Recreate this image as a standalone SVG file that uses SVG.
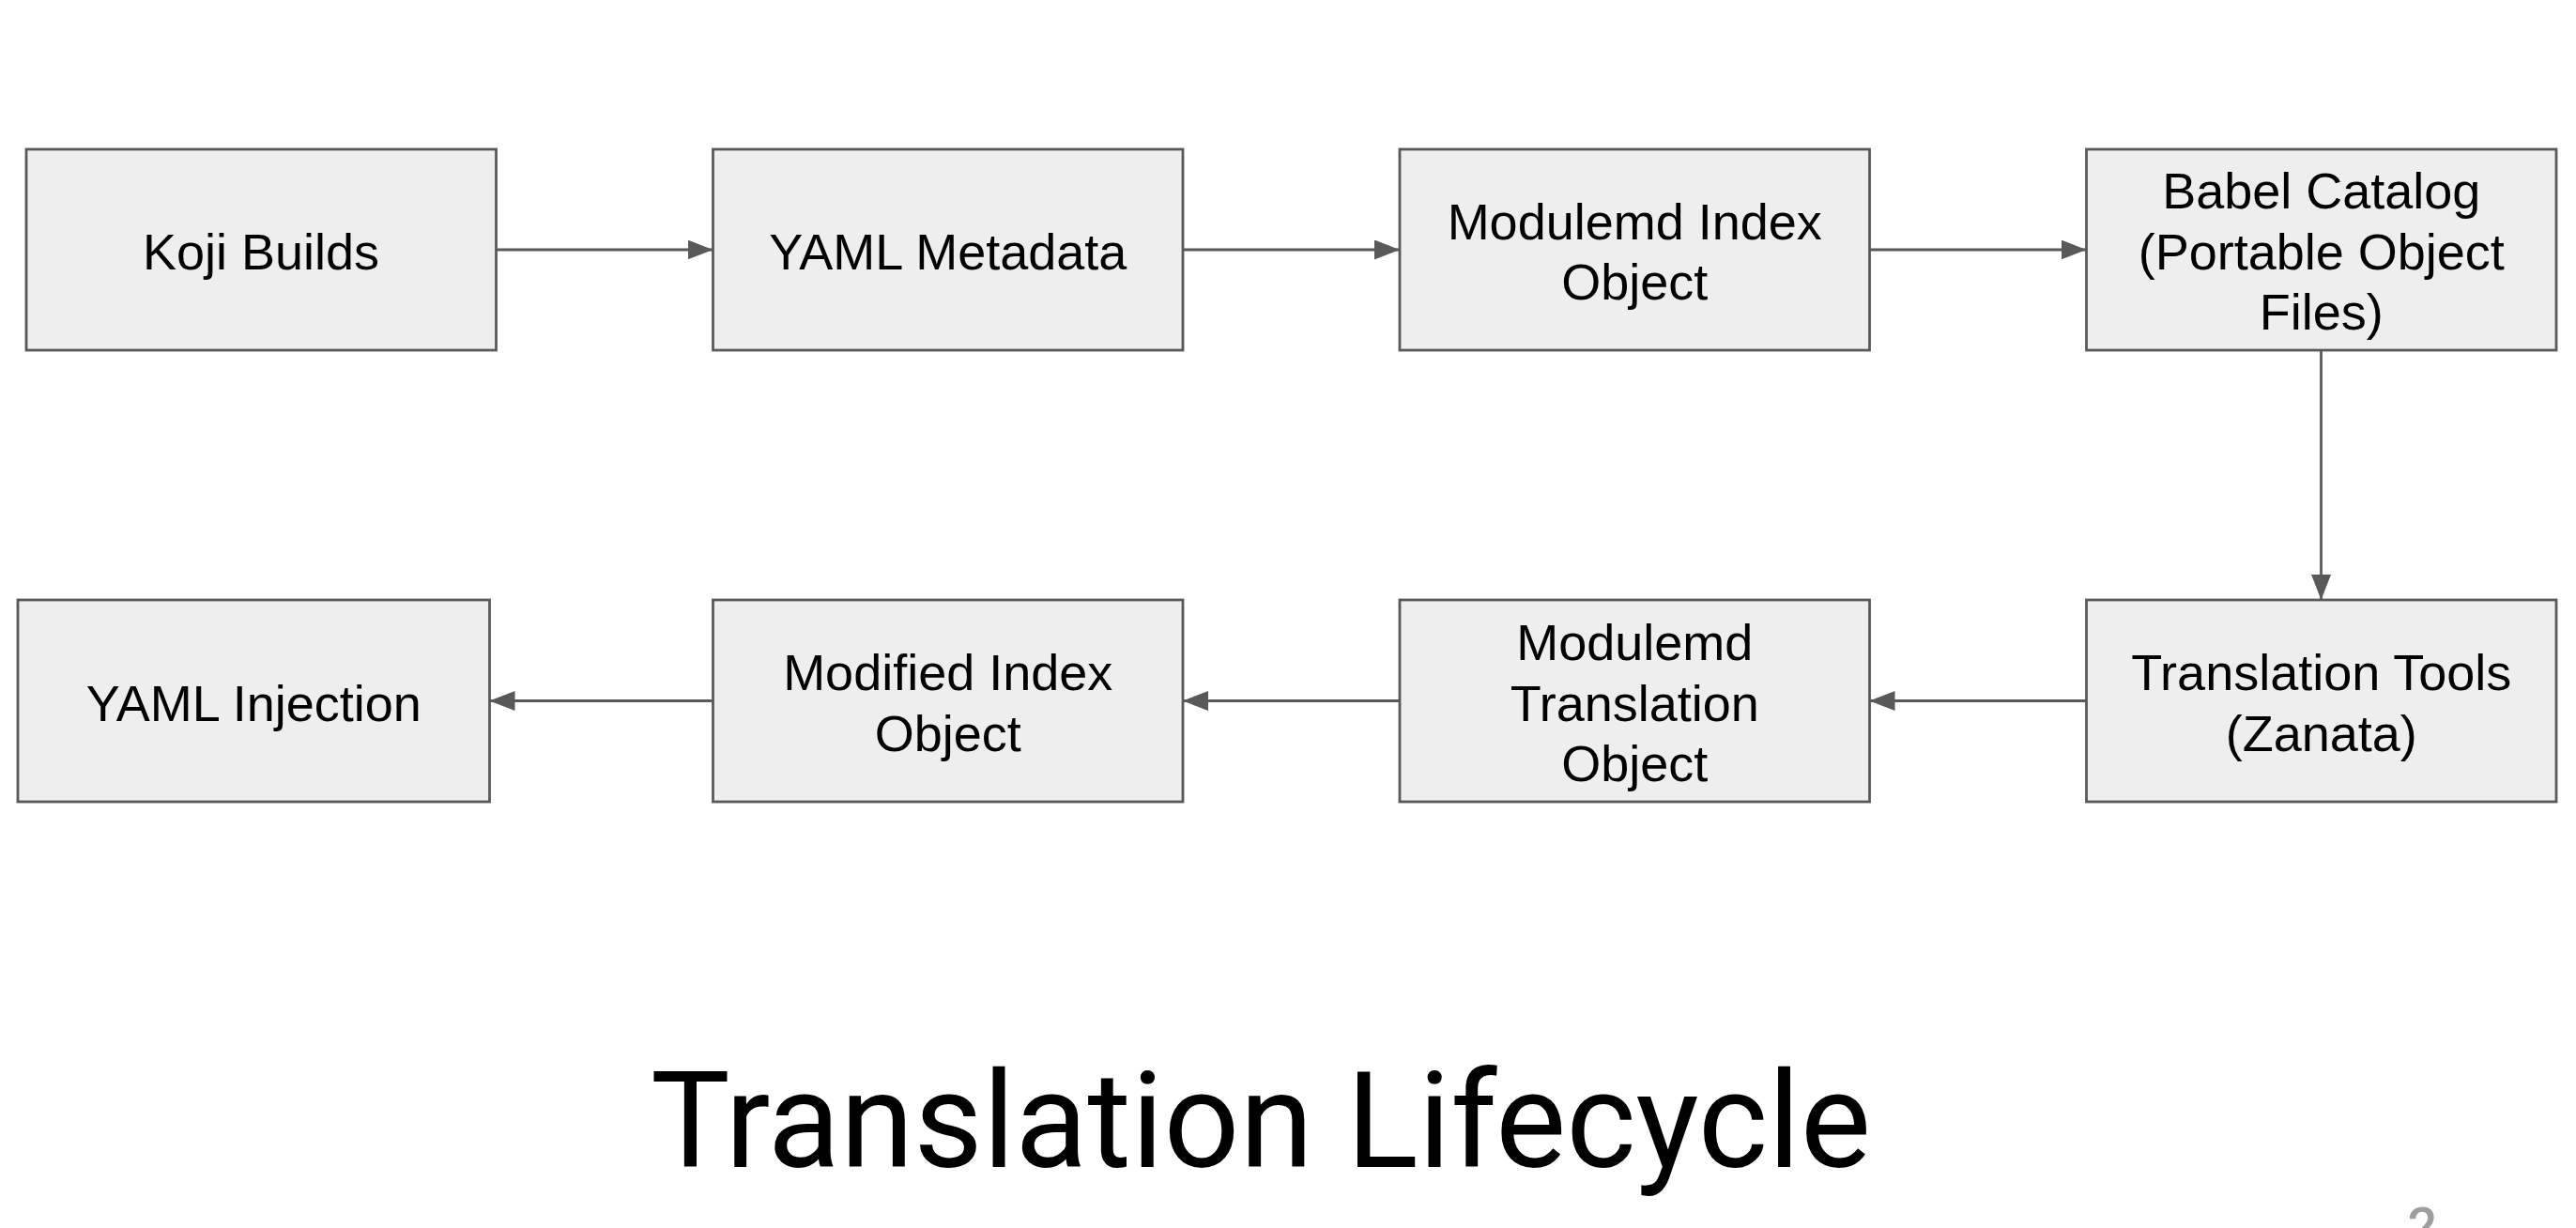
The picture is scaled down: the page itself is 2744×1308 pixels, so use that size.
<svg xmlns="http://www.w3.org/2000/svg" width="2744" height="1308" viewBox="0 0 2744 1308">
<style>
.box{fill:#eeeeee;stroke:#595959;stroke-width:2.8}
.lbl{font-family:"Liberation Sans",Arial,sans-serif;font-size:54px;fill:#000;text-anchor:middle}
.edge{stroke:#595959;stroke-width:2.8;fill:none}
.title{font-family:Roboto,"Liberation Sans",sans-serif;font-size:142px;fill:#000;text-anchor:middle}
.pg{font-family:Roboto,"Liberation Sans",sans-serif;font-size:56px;font-weight:500;fill:#9e9e9e;text-anchor:middle}
</style>
<defs>
<marker id="arr" markerUnits="userSpaceOnUse" markerWidth="27" markerHeight="21" refX="27" refY="10.5" orient="auto">
<path d="M0,0 L27,10.5 L0,21 Z" fill="#595959"/>
</marker>
</defs>
<rect width="2744" height="1308" fill="#ffffff"/>
<g id="connectors">
<line class="edge" x1="528.5" y1="266" x2="759.5" y2="266" marker-end="url(#arr)"/>
<line class="edge" x1="1260" y1="266" x2="1491" y2="266" marker-end="url(#arr)"/>
<line class="edge" x1="1991.5" y1="266" x2="2222.5" y2="266" marker-end="url(#arr)"/>
<line class="edge" x1="2472.5" y1="373" x2="2472.5" y2="639" marker-end="url(#arr)"/>
<line class="edge" x1="2222.5" y1="746.5" x2="1991.5" y2="746.5" marker-end="url(#arr)"/>
<line class="edge" x1="1491" y1="746.5" x2="1260" y2="746.5" marker-end="url(#arr)"/>
<line class="edge" x1="759.5" y1="746.5" x2="521.5" y2="746.5" marker-end="url(#arr)"/>
</g>
<g id="koji-builds">
<rect class="box" x="28" y="159" width="500.5" height="214"/>
<text class="lbl" x="278" y="286.5">Koji Builds</text>
</g>
<g id="yaml-metadata">
<rect class="box" x="759.5" y="159" width="500.5" height="214"/>
<text class="lbl" x="1009.75" y="286.5">YAML Metadata</text>
</g>
<g id="modulemd-index-object">
<rect class="box" x="1491" y="159" width="500.5" height="214"/>
<text class="lbl" x="1741.25" y="254.5">Modulemd Index</text>
<text class="lbl" x="1741.25" y="319">Object</text>
</g>
<g id="babel-catalog">
<rect class="box" x="2222.5" y="159" width="500.5" height="214"/>
<text class="lbl" x="2472.75" y="222">Babel Catalog</text>
<text class="lbl" x="2472.75" y="286.5">(Portable Object</text>
<text class="lbl" x="2472.75" y="351">Files)</text>
</g>
<g id="translation-tools">
<rect class="box" x="2222.5" y="639" width="500.5" height="215"/>
<text class="lbl" x="2472.75" y="735">Translation Tools</text>
<text class="lbl" x="2472.75" y="799.5">(Zanata)</text>
</g>
<g id="modulemd-translation-object">
<rect class="box" x="1491" y="639" width="500.5" height="215"/>
<text class="lbl" x="1741.25" y="703">Modulemd</text>
<text class="lbl" x="1741.25" y="767.5">Translation</text>
<text class="lbl" x="1741.25" y="832">Object</text>
</g>
<g id="modified-index-object">
<rect class="box" x="759.5" y="639" width="500.5" height="215"/>
<text class="lbl" x="1009.75" y="735">Modified Index</text>
<text class="lbl" x="1009.75" y="799.5">Object</text>
</g>
<g id="yaml-injection">
<rect class="box" x="19" y="639" width="502.5" height="215"/>
<text class="lbl" x="270.25" y="767.5">YAML Injection</text>
</g>
<text class="title" x="1343" y="1243">Translation Lifecycle</text>
<text class="pg" x="2580.5" y="1326">2</text>
</svg>
